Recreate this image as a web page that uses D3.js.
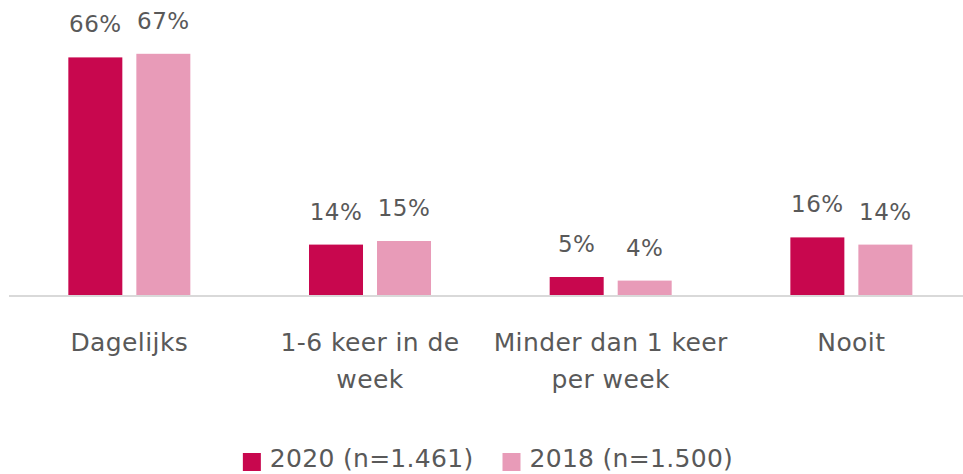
<!DOCTYPE html>
<html>
<head>
<meta charset="utf-8">
<script src="https://cdn.jsdelivr.net/npm/d3@7"></script>
<style>
  body { margin: 0; background: #fff; }
  svg { display: block; font-family: "DejaVu Sans", Verdana, sans-serif; }
</style>
</head>
<body>
<div id="chart"></div>
<script>
  var categories = ["Dagelijks", "1-6 keer in de week", "Minder dan 1 keer per week", "Nooit"];
  var seriesNames = ["2020 (n=1.461)", "2018 (n=1.500)"];
  var values2020 = [66, 14, 5, 16];
  var values2018 = [67, 15, 4, 14];
  var colors = ["#c8074e", "#e89bb8"];

  var w = 963, h = 474;
  var baseY = 295;

  var svg = d3.select("#chart").append("svg")
    .attr("width", w)
    .attr("height", h);

  var x0 = d3.scaleBand().domain(categories).range([9, 971.7]).paddingInner(0).paddingOuter(0);
  var x1 = d3.scaleBand().domain(seriesNames)
    .range([x0.bandwidth() / 2 - 61, x0.bandwidth() / 2 + 61])
    .paddingInner(0.206);
  var y = d3.scaleLinear().domain([0, 100]).range([baseY, baseY - 360]);

  var rows = categories.map(function (c, i) {
    return { cat: c, vals: [values2020[i], values2018[i]] };
  });

  // baseline
  svg.append("line")
    .attr("x1", 9).attr("x2", w)
    .attr("y1", baseY + 1).attr("y2", baseY + 1)
    .style("stroke", "#d9d9d9")
    .style("stroke-width", 2);

  var group = svg.append("g").selectAll(".grp")
    .data(rows)
    .enter().append("g")
    .attr("class", "grp")
    .attr("transform", function (d) { return "translate(" + x0(d.cat) + ",0)"; });

  var bars = group.selectAll("rect")
    .data(function (d) {
      return d.vals.map(function (v, j) { return { s: seriesNames[j], v: v, j: j }; });
    })
    .enter();

  bars.append("rect")
    .attr("x", function (d) { return x1(d.s); })
    .attr("y", function (d) { return y(d.v); })
    .attr("width", x1.bandwidth())
    .attr("height", function (d) { return baseY - y(d.v); })
    .style("fill", function (d) { return colors[d.j]; });

  bars.append("text")
    .attr("x", function (d) { return x1(d.s) + x1.bandwidth() / 2; })
    .attr("y", function (d) { return y(d.v) - 25; })
    .attr("text-anchor", "middle")
    .style("font-size", "23px")
    .style("letter-spacing", "0.5px")
    .style("fill", "#595959")
    .text(function (d) { return d.v + "%"; });

  // category labels, wrapped
  var catLabels = svg.append("g").selectAll(".cat")
    .data(categories)
    .enter().append("text")
    .attr("class", "cat")
    .attr("text-anchor", "middle")
    .attr("x", function (d) { return x0(d) + x0.bandwidth() / 2; })
    .attr("y", 350.5)
    .style("font-size", "25px")
    .style("letter-spacing", "0.4px")
    .style("fill", "#595959");

  catLabels.each(function (d) {
    var t = d3.select(this);
    var words = d.split(" ");
    var line = [];
    var cx = x0(d) + x0.bandwidth() / 2;
    var tspan = t.append("tspan").attr("x", cx).attr("dy", 0);
    words.forEach(function (word) {
      line.push(word);
      tspan.text(line.join(" "));
      if (tspan.node().getComputedTextLength() > 238 && line.length > 1) {
        line.pop();
        tspan.text(line.join(" "));
        line = [word];
        tspan = t.append("tspan").attr("x", cx).attr("dy", "1.5em").text(word);
      }
    });
  });

  // legend
  var legend = svg.append("g").attr("class", "legend");
  var items = legend.selectAll("g")
    .data(seriesNames)
    .enter().append("g");
  items.append("rect")
    .attr("width", 18).attr("height", 18)
    .attr("y", 453)
    .style("fill", function (d, i) { return colors[i]; });
  items.append("text")
    .attr("x", 27)
    .attr("y", 467)
    .style("font-size", "25px")
    .style("letter-spacing", "0.3px")
    .style("fill", "#595959")
    .text(function (d) { return d; });

  var offset = 0;
  var positions = [];
  items.each(function () {
    positions.push(offset);
    offset += 27 + d3.select(this).select("text").node().getComputedTextLength() + 29;
  });
  var total = offset - 29;
  var startX = 488 - total / 2;
  items.attr("transform", function (d, i) { return "translate(" + (startX + positions[i]) + ",0)"; });
</script>
</body>
</html>
